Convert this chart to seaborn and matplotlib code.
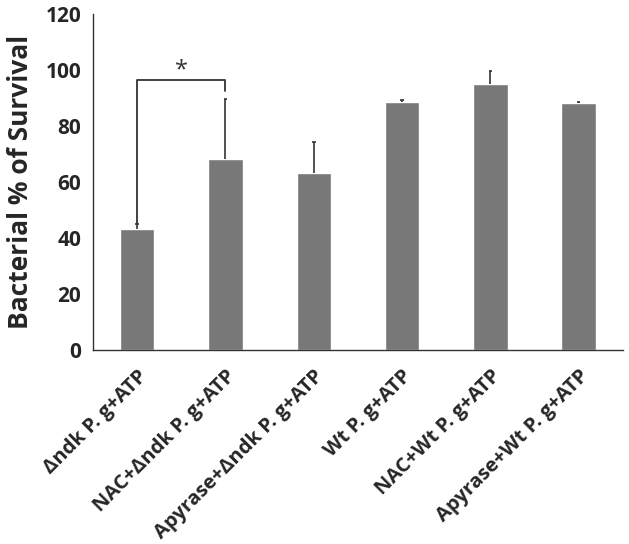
import numpy as np
import pandas as pd
import matplotlib
matplotlib.use("Agg")
import matplotlib.pyplot as plt
import seaborn as sns

groups = ["Δndk P. g+ATP", "NAC+Δndk P. g+ATP", "Apyrase+Δndk P. g+ATP",
          "Wt P. g+ATP", "NAC+Wt P. g+ATP", "Apyrase+Wt P. g+ATP"]
survival = [43.3, 68.3, 63.3, 88.6, 95.0, 88.1]
err_up = [1.6, 21.2, 11.1, 0.7, 4.5, 0.4]

df = pd.DataFrame({"group": groups, "survival": survival})

sns.set_style("white")
plt.rcParams["font.family"] = ["Open Sans", "DejaVu Sans"]

fig = plt.figure(figsize=(6.29, 5.44), dpi=100)
ax = fig.add_axes([0.148, 0.357, 0.842, 0.617])

sns.barplot(data=df, x="group", y="survival", color="#787878", saturation=1,
            width=0.39, ax=ax)
x = np.arange(len(groups))
tops = np.array(survival) + np.array(err_up)
# upper-only error bars with a small cap
ax.vlines(x, survival, tops, color="#333333", lw=1.2)
ax.hlines(tops, x - 0.02, x + 0.02, color="#333333", lw=1.2)

# significance bracket
ax.plot([0, 0, 1, 1], [tops[0], 96.5, 96.5, 92.4], color="#333333", lw=1.3)
ax.text(0.5, 95.5, "*", ha="center", va="bottom", fontsize=17, color="#333333")

ax.set_ylim(0, 120)
ax.set_xlim(-0.5, len(groups) - 0.5)
ax.set_yticks(range(0, 121, 20))
ax.set_xticks(x)
ax.set_xticklabels(groups, rotation=45, ha="right", rotation_mode="anchor",
                   fontsize=14.5, fontweight="bold")
ax.set_xticks(np.arange(-0.5, len(groups)), minor=True)
ax.tick_params(axis="x", which="major", length=0, pad=12)
ax.tick_params(axis="x", which="minor", length=5, direction="out", color="#333333")
ax.tick_params(axis="y", length=5, direction="out", color="#333333", labelsize=15)
for lab in ax.get_yticklabels():
    lab.set_fontweight("bold")
ax.set_xlabel("")
ax.set_ylabel("Bacterial % of Survival", fontsize=19, fontweight="bold", labelpad=8)
for s in ["top", "right"]:
    ax.spines[s].set_visible(False)
for s in ["left", "bottom"]:
    ax.spines[s].set_color("#333333")
    ax.spines[s].set_linewidth(1.0)

fig.savefig("out.png", dpi=100)
